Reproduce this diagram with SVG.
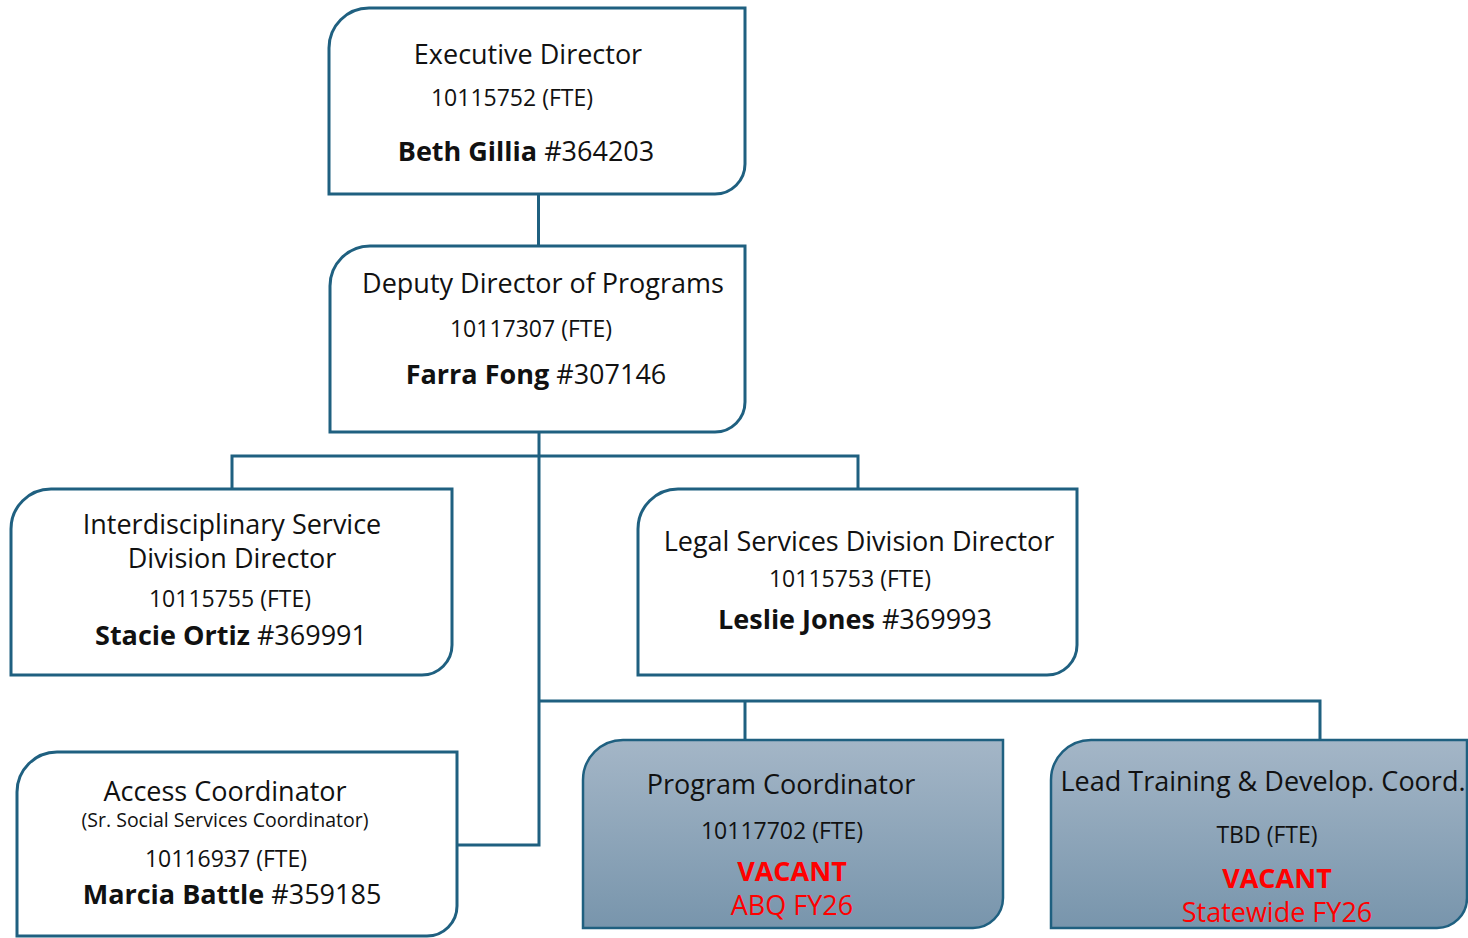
<svg xmlns="http://www.w3.org/2000/svg" width="1468" height="938" viewBox="0 0 1468 938">
<defs>
<linearGradient id="vac" x1="0" y1="0" x2="0" y2="1">
<stop offset="0" stop-color="#a4b6c7"/>
<stop offset="1" stop-color="#7895ac"/>
</linearGradient>
<style>
.box{fill:#ffffff;stroke:#1f6080;stroke-width:3}
.vbox{fill:url(#vac);stroke:#1f6080;stroke-width:2.5}
.ln{fill:none;stroke:#1f6080;stroke-width:3}
text{font-family:"Open Sans","Noto Sans","Liberation Sans",sans-serif;fill:#111;text-anchor:middle}
.t{font-size:27px}
.n{font-size:23px}
.s{font-size:19.5px}
.b{font-weight:bold}
.red{fill:#ff0000}
</style>
</defs>
<rect width="1468" height="938" fill="#ffffff"/>
<g id="connectors">
<path class="ln" d="M538.5,194 V246"/>
<path class="ln" d="M539,432 V845 H457"/>
<path class="ln" d="M232,489 V456 H858 V489"/>
<path class="ln" d="M539,701 H1320 V740"/>
<path class="ln" d="M745,701 V740"/>
</g>
<g id="exec">
<path class="box" d="M329,48 A40,40 0 0 1 369,8 H745 V164 A30,30 0 0 1 715,194 H329 Z"/>
<text class="t" x="528" y="64">Executive Director</text>
<text class="n" x="512" y="106">10115752 (FTE)</text>
<text class="t" x="526" y="161"><tspan class="b">Beth Gillia</tspan> #364203</text>
</g>
<g id="deputy">
<path class="box" d="M330,286 A40,40 0 0 1 370,246 H745 V402 A30,30 0 0 1 715,432 H330 Z"/>
<text class="t" x="543" y="293">Deputy Director of Programs</text>
<text class="n" x="531" y="337">10117307 (FTE)</text>
<text class="t" x="536" y="384"><tspan class="b">Farra Fong</tspan> #307146</text>
</g>
<g id="interdisciplinary">
<path class="box" d="M11,529 A40,40 0 0 1 51,489 H452 V645 A30,30 0 0 1 422,675 H11 Z"/>
<text class="t" x="232" y="534">Interdisciplinary Service</text>
<text class="t" x="232" y="568">Division Director</text>
<text class="n" x="230" y="607">10115755 (FTE)</text>
<text class="t" x="231" y="645"><tspan class="b">Stacie Ortiz</tspan> #369991</text>
</g>
<g id="legal">
<path class="box" d="M638,529 A40,40 0 0 1 678,489 H1077 V645 A30,30 0 0 1 1047,675 H638 Z"/>
<text class="t" x="859" y="551">Legal Services Division Director</text>
<text class="n" x="850" y="587">10115753 (FTE)</text>
<text class="t" x="855" y="629"><tspan class="b">Leslie Jones</tspan> #369993</text>
</g>
<g id="access">
<path class="box" d="M17,792 A40,40 0 0 1 57,752 H457 V906 A30,30 0 0 1 427,936 H17 Z"/>
<text class="t" x="225" y="801">Access Coordinator</text>
<text class="s" x="225" y="827">(Sr. Social Services Coordinator)</text>
<text class="n" x="226" y="867">10116937 (FTE)</text>
<text class="t" x="232" y="904"><tspan class="b">Marcia Battle</tspan> #359185</text>
</g>
<g id="program">
<path class="vbox" d="M583,780 A40,40 0 0 1 623,740 H1003 V898 A30,30 0 0 1 973,928 H583 Z"/>
<text class="t" x="781" y="794">Program Coordinator</text>
<text class="n" x="782" y="839">10117702 (FTE)</text>
<text class="t b red" x="792" y="881">VACANT</text>
<text class="t red" x="792" y="915">ABQ FY26</text>
</g>
<g id="lead">
<path class="vbox" d="M1051,780 A40,40 0 0 1 1091,740 H1467 V898 A30,30 0 0 1 1437,928 H1051 Z"/>
<text class="t" x="1263" y="791">Lead Training &amp; Develop. Coord.</text>
<text class="n" x="1267" y="843">TBD (FTE)</text>
<text class="t b red" x="1277" y="888">VACANT</text>
<text class="t red" x="1277" y="922">Statewide FY26</text>
</g>
</svg>
